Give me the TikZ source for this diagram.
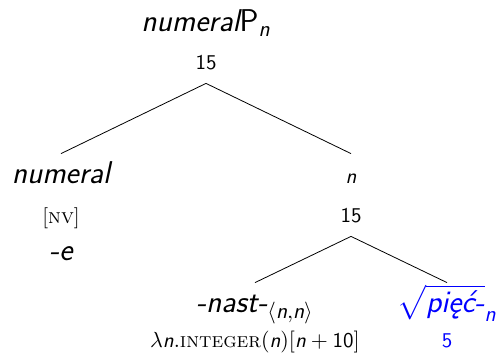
\documentclass[tikz,border=0pt]{standalone}
\usepackage{amsmath}
\usetikzlibrary{positioning}

\tikzset{
  cat/.style={font=\fontsize{15.75}{19}\selectfont\sffamily, inner xsep=0pt, inner ysep=4pt, text height=10.5pt},
  val/.style={font=\fontsize{10.5}{12.5}\selectfont\sffamily, inner xsep=0pt, inner ysep=7pt, text depth=0pt},
}

\begin{document}
\begin{tikzpicture}
\useasboundingbox (0,0) rectangle (248pt,-176.5pt);

\node [cat, anchor=base] (root) at (103pt,-16pt) {{\itshape numeral}P$_{\text{\itshape n}}$};
\node [val, below=18.5pt of root.base, anchor=base] (root_val) {15};

\node [cat, below left=57pt and 72.5pt of root_val.base, anchor=base] (numeral) {\itshape numeral};
\node [val, below=20pt of numeral.base, anchor=base] (numeral_feat) {\textrm{[\textsc{nv}]}};
\node [cat, below=18.5pt of numeral_feat.base, anchor=base] (numeral_exp) {\itshape -e};

\node [cat, font=\fontsize{10.5}{12.5}\selectfont\sffamily, below right=57pt and 72.5pt of root_val.base, anchor=base] (n) {\itshape n};
\node [val, below=19.5pt of n.base, anchor=base] (n_val) {15};

\node [cat, below left=45pt and 48pt of n_val.base, anchor=base] (nast) {{\itshape -nast-}$_{\langle\text{\itshape n},\text{\itshape n}\rangle}$};
\node [val, below=17.5pt of nast.base, anchor=base] (nast_val) {$\lambda\text{\itshape n}.\text{\rmfamily\scshape integer}(\text{\itshape n})[\text{\itshape n}+\text{10}]$};

\node [cat, blue, below right=45pt and 48pt of n_val.base, anchor=base] (piec) {$\sqrt{\text{\itshape pięć-}}_{\text{\itshape n}}$};
\node [val, blue, below=17.5pt of piec.base, anchor=base] (piec_val) {5};

\draw (root_val.south) -- (numeral.north);
\draw (root_val.south) -- (n.north);
\draw (n_val.south) -- (nast.north);
\draw (n_val.south) -- (piec.north);

\end{tikzpicture}
\end{document}
